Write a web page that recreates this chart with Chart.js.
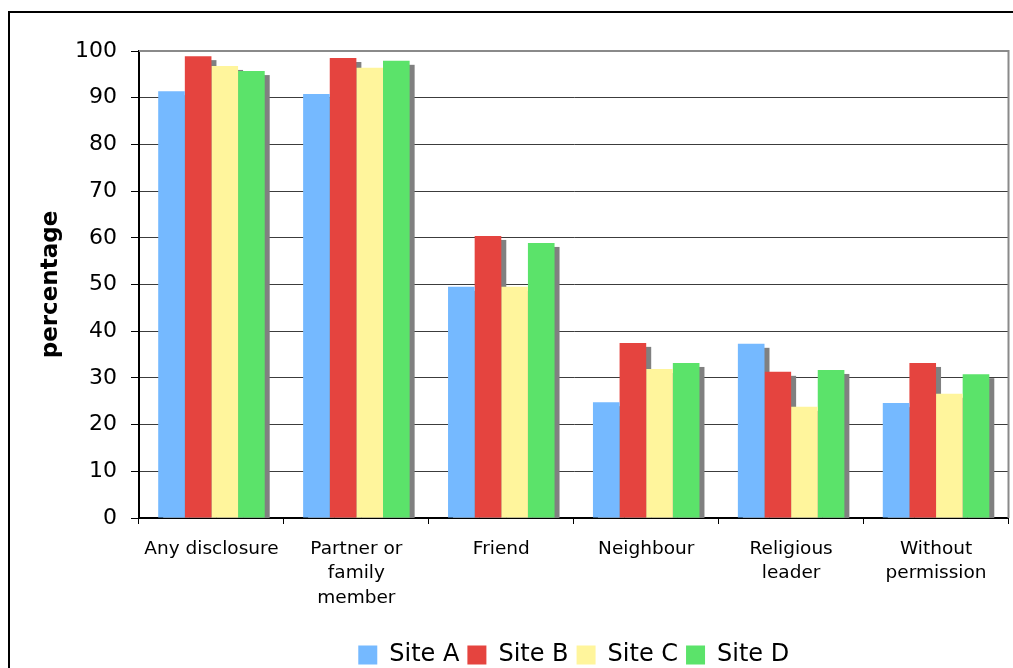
<!DOCTYPE html>
<html lang="en">
<head>
<meta charset="utf-8">
<title>Disclosure by site</title>

<script src="https://cdn.jsdelivr.net/npm/chart.js"></script>

<style>
  body{margin:0;padding:0;background:#fff}
  #chart{display:block}
</style>
</head>
<body>

<canvas id="chart" width="1013" height="668"></canvas>

<script>
const categories = ['Any disclosure', ['Partner or', 'family', 'member'], 'Friend', 'Neighbour', ['Religious', 'leader'], ['Without', 'permission']];
const siteA = [91.4, 90.8, 49.5, 24.8, 37.3, 24.6];
const siteB = [98.9, 98.5, 60.4, 37.5, 31.3, 33.2];
const siteC = [96.8, 96.4, 49.5, 31.9, 23.8, 26.6];
const siteD = [95.7, 97.9, 58.9, 33.2, 31.7, 30.8];
const yTicks = [0, 10, 20, 30, 40, 50, 60, 70, 80, 90, 100];

Chart.defaults.font.family = '"DejaVu Sans", Verdana, sans-serif';
Chart.defaults.color = '#000';

// outer black frame + white page
const frame = {
  id: 'frame',
  beforeDraw(chart) {
    const ctx = chart.ctx;
    ctx.save();
    ctx.fillStyle = '#fff';
    ctx.fillRect(0, 0, chart.width, chart.height);
    ctx.strokeStyle = '#000';
    ctx.lineWidth = 2;
    ctx.strokeRect(9, 12, chart.width + 10, chart.height + 10);
    ctx.restore();
  }
};

// grey drop shadow behind every bar
const barShadow = {
  id: 'barShadow',
  beforeDatasetsDraw(chart) {
    const ctx = chart.ctx, a = chart.chartArea;
    ctx.save();
    ctx.beginPath();
    ctx.rect(a.left, a.top, a.right - a.left, a.bottom - a.top);
    ctx.clip();
    ctx.fillStyle = '#808080';
    chart.data.datasets.forEach((ds, i) => {
      chart.getDatasetMeta(i).data.forEach(el => {
        ctx.fillRect(el.x - el.width / 2 + 5, el.y + 4, el.width, el.base - el.y);
      });
    });
    ctx.restore();
  }
};

// grey plot border on top and right
const plotBorder = {
  id: 'plotBorder',
  afterDraw(chart) {
    const ctx = chart.ctx, a = chart.chartArea;
    ctx.save();
    ctx.strokeStyle = '#8a8a8a';
    ctx.lineWidth = 2;
    ctx.beginPath();
    ctx.moveTo(a.left, a.top);
    ctx.lineTo(a.right, a.top);
    ctx.lineTo(a.right, a.bottom);
    ctx.stroke();
    ctx.restore();
  }
};

const barOpts = { borderWidth: 0, categoryPercentage: 0.735, barPercentage: 1 };

new Chart(document.getElementById('chart'), {
  type: 'bar',
  data: {
    labels: categories,
    datasets: [
      { label: 'Site A', data: siteA, backgroundColor: '#75b9ff', ...barOpts },
      { label: 'Site B', data: siteB, backgroundColor: '#e5443f', ...barOpts },
      { label: 'Site C', data: siteC, backgroundColor: '#fff59c', ...barOpts },
      { label: 'Site D', data: siteD, backgroundColor: '#5be36a', ...barOpts }
    ]
  },
  options: {
    responsive: false,
    animation: false,
    devicePixelRatio: 1,
    layout: { padding: { left: 0, right: 4.5, top: 51, bottom: -9 } },
    plugins: {
      legend: {
        position: 'bottom',
        fullSize: false,
        labels: {
          boxWidth: 19,
          boxHeight: 19,
          padding: 8,
          color: '#000',
          font: { size: 24 }
        }
      },
      tooltip: { enabled: false }
    },
    scales: {
      x: {
        afterFit(scale) { scale.height = 117; },
        ticks: {
          color: '#000',
          padding: 13,
          maxRotation: 0,
          autoSkip: false,
          font: { size: 18.5, lineHeight: 1.32 }
        },
        grid: { drawOnChartArea: false, drawTicks: true, tickLength: 6, tickColor: '#000', color: '#000' },
        border: { color: '#000', width: 2 }
      },
      y: {
        min: 0,
        max: 100,
        afterFit(scale) { scale.width = 139; },
        afterBuildTicks(scale) { scale.ticks = yTicks.map(v => ({ value: v })); },
        title: {
          display: true,
          text: 'percentage',
          color: '#000',
          font: { size: 23, weight: 'bold' },
          padding: { top: 37, bottom: 0 }
        },
        ticks: { color: '#000', padding: 14, font: { size: 22 } },
        grid: { color: '#3c3c3c', lineWidth: 1, tickLength: 8, tickColor: '#000' },
        border: { color: '#000', width: 2 }
      }
    }
  },
  plugins: [frame, barShadow, plotBorder]
});
</script>

</body>
</html>
